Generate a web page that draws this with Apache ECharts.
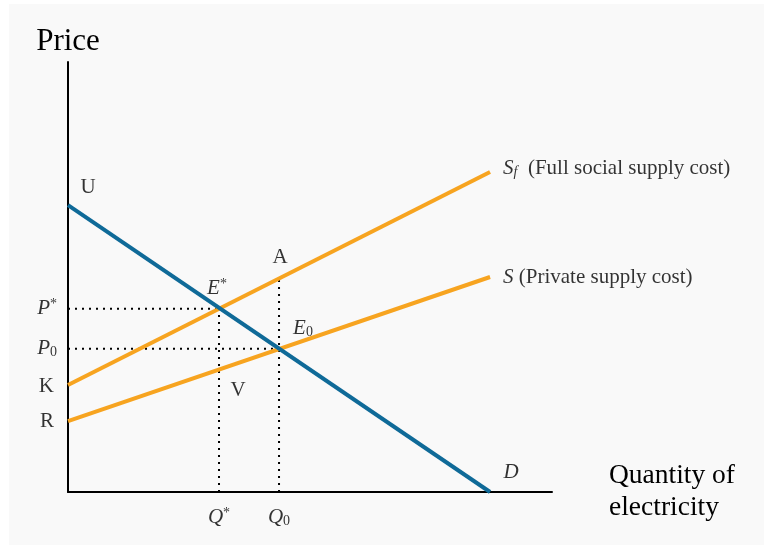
<!DOCTYPE html>
<html>
<head>
<meta charset="utf-8">
<script src="https://cdn.jsdelivr.net/npm/echarts@6/dist/echarts.min.js"></script>
<style>
html,body{margin:0;padding:0;background:#fff;}
#chart{width:766px;height:545px;}
</style>
</head>
<body>
<div id="chart"></div>
<script>
// curves (quantity, price)
var demand = [[0, 66.7], [87.2, 0]];
var socialSupply = [[0, 24.9], [87.2, 74.4]];
var privateSupply = [[0, 16.5], [87.2, 50]];

// equilibrium values
var qStar = 31.2, pStar = 42.6;
var q0 = 43.6, p0 = 33.3;
var aPrice = 49.65;   // social supply at Q0
var vPrice = 28.5;    // private supply at Q*

var serif = '"Liberation Serif","DejaVu Serif",serif';
var blue = '#0f6a98';
var orange = '#f7a420';

var myChart = echarts.init(document.getElementById('chart'));

function dotted(data){
  return {
    type: 'line', data: data, symbol: 'none', silent: true,
    lineStyle: {color: '#000', width: 2, type: [2, 5]}, z: 1
  };
}

var rich = {
  i: {fontFamily: serif, fontStyle: 'italic', fontSize: 21, color: '#000', lineHeight: 22},
  n: {fontFamily: serif, fontSize: 21, color: '#000', lineHeight: 22},
  sup: {fontFamily: serif, fontSize: 14, color: '#000', verticalAlign: 'top', lineHeight: 14},
  sub: {fontFamily: serif, fontSize: 14, color: '#000', verticalAlign: 'bottom', lineHeight: 12},
  subi: {fontFamily: serif, fontStyle: 'italic', fontSize: 14, color: '#000', verticalAlign: 'bottom', lineHeight: 11}
};

var labelPoints = [
  {value: demand[0], text: '{n|U}', pos: 'inside', offset: [20, -18]},
  {value: [q0, aPrice], text: '{n|A}', pos: 'inside', offset: [1, -21]},
  {value: [qStar, pStar], text: '{i|E}{sup|*}', pos: 'inside', offset: [-2, -20]},
  {value: [q0, p0], text: '{i|E}{sub|0}', pos: 'inside', offset: [24, -20]},
  {value: [qStar, vPrice], text: '{n|V}', pos: 'inside', offset: [19, 21]},
  {value: demand[1], text: '{i|D}', pos: 'inside', offset: [21, -20]},
  {value: [0, pStar], text: '{i|P}{sup|*}', pos: 'left', offset: [0, 0], dist: 11},
  {value: [0, p0], text: '{i|P}{sub|0}', pos: 'left', offset: [0, 0], dist: 11},
  {value: socialSupply[0], text: '{n|K}', pos: 'left', offset: [0, 2], dist: 14},
  {value: privateSupply[0], text: '{n|R}', pos: 'left', offset: [0, 0], dist: 14},
  {value: [qStar, 0], text: '{i|Q}{sup|*}', pos: 'bottom', offset: [0, 0], dist: 14},
  {value: [q0, 0], text: '{i|Q}{sub|0}', pos: 'bottom', offset: [0, 0], dist: 14},
  {value: socialSupply[1], text: '{i|S}{subi|f}{n|  (Full social supply cost)}', pos: 'right', offset: [0, -4], dist: 13},
  {value: privateSupply[1], text: '{i|S}{n| (Private supply cost)}', pos: 'right', offset: [0, 0], dist: 13}
];

myChart.setOption({
  animation: false,
  backgroundColor: '#ffffff',
  graphic: [{
    type: 'rect', z: -10, silent: true,
    shape: {x: 9, y: 4, width: 755, height: 541},
    style: {fill: '#f9f9f9'}
  }],
  grid: {left: 68, right: 214, top: 62, bottom: 53},
  xAxis: {
    type: 'value', min: 0, max: 100,
    name: 'Quantity of\nelectricity', nameLocation: 'end', nameGap: 57,
    nameTextStyle: {fontFamily: serif, fontSize: 27.5, color: '#000', lineHeight: 32, align: 'left', verticalAlign: 'middle'},
    axisLine: {show: true, lineStyle: {color: '#000', width: 2}},
    axisTick: {show: false}, axisLabel: {show: false}, splitLine: {show: false}
  },
  yAxis: {
    type: 'value', min: 0, max: 100,
    name: 'Price', nameLocation: 'end', nameGap: 20,
    nameTextStyle: {fontFamily: serif, fontSize: 31, color: '#000', align: 'center', verticalAlign: 'middle'},
    axisLine: {show: true, lineStyle: {color: '#000', width: 2}},
    axisTick: {show: false}, axisLabel: {show: false}, splitLine: {show: false}
  },
  series: [
    dotted([[0, pStar], [qStar, pStar]]),
    dotted([[0, p0], [q0, p0]]),
    dotted([[qStar, 0], [qStar, pStar]]),
    dotted([[q0, 0], [q0, aPrice]]),
    {type: 'line', data: socialSupply, symbol: 'none', lineStyle: {color: orange, width: 4}, z: 2},
    {type: 'line', data: privateSupply, symbol: 'none', lineStyle: {color: orange, width: 4}, z: 2},
    {type: 'line', data: demand, symbol: 'none', lineStyle: {color: blue, width: 4}, z: 3},
    {
      type: 'scatter', symbolSize: 0, silent: true, z: 5,
      data: labelPoints.map(function(p){
        return {
          value: p.value,
          label: {
            show: true, formatter: p.text, position: p.pos, offset: p.offset,
            distance: p.dist || 0, color: '#000', fontFamily: serif, fontSize: 21,
            rich: rich
          }
        };
      })
    }
  ]
});
</script>
</body>
</html>
